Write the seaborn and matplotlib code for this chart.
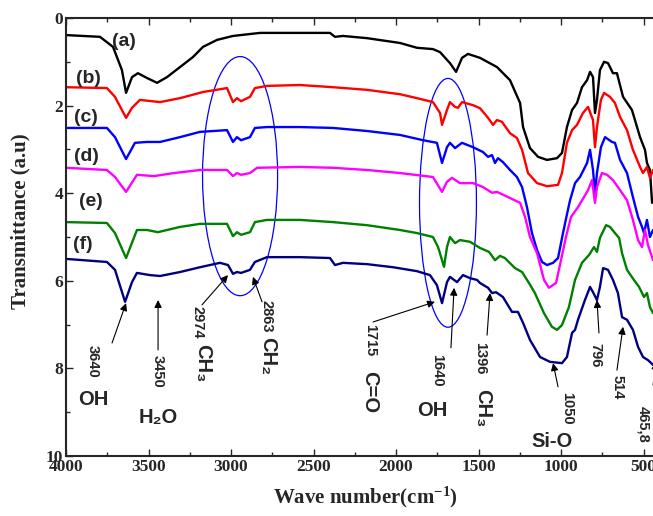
import numpy as np
import pandas as pd
import matplotlib
matplotlib.use("Agg")
import matplotlib.pyplot as plt
import seaborn as sns
from matplotlib.patches import Ellipse
from matplotlib.ticker import MultipleLocator

# ---------------- data ----------------
A_wn = [4000,3794,3715,3661,3636,3600,3564,3509,3448,3388, 3309,3230,3170,3085,2988,2824,2400,2370,2321,2176,
        1976,1873,1776,1733,1673,1636,1600,1564,1491,1388, 1309,1248,1230,1188,1139,1085,1024,994,964,933,
        903,873,842,824,806,794,782,764,739,715, 685,661,624,570,521,491,479,461,448]
A_T = [0.39,0.43,0.66,1.19,1.71,1.35,1.26,1.37,1.48,1.35, 1.12,0.89,0.66,0.50,0.41,0.34,0.34,0.43,0.41,0.46,
       0.57,0.68,0.71,0.78,1.03,1.23,0.91,0.82,0.91,1.12, 1.42,1.94,2.49,2.97,3.17,3.24,3.20,3.08,2.49,2.10,
       1.94,1.58,1.42,1.23,1.35,2.17,1.87,1.19,1.00,1.03, 1.26,1.26,1.80,2.10,2.72,3.01,3.31,3.47,4.22]

B_wn = [4000,3752,3703,3636,3600,3552,3430,3309,3170,3024, 2988,2964,2939,2885,2855,2782,2582,2382,2176,1976,
        1873,1776,1733,1721,1691,1673,1642,1624,1600,1533, 1491,1442,1412,1388,1358,1309,1267,1236,1200,1145,
        1085,1018,994,964,933,903,867,836,806,794, 782,758,739,703,673,642,600,564,521,503, 479,461,442]
B_T = [1.58,1.60,1.80,2.28,2.05,1.87,1.92,1.83,1.69,1.60, 1.92,1.83,1.90,1.80,1.60,1.55,1.53,1.58,1.64,1.74,
       1.83,1.92,2.17,2.44,2.10,1.92,2.03,2.05,1.92,1.99, 2.06,2.28,2.44,2.33,2.37,2.63,2.74,3.01,3.54,3.77,
       3.84,3.81,3.54,2.85,2.56,2.44,2.17,2.03,2.33,2.95, 2.49,1.87,1.71,1.80,1.94,2.26,2.56,3.01,3.40,3.54,
       3.40,3.65,3.47]

C_wn = [4000,3752,3703,3636,3582,3509,3430,3309,3188,3024, 2988,2964,2939,2885,2855,2782,2582,2382,2176,1976,
        1836,1752,1721,1691,1673,1642,1600,1533,1473,1442, 1418,1400,1382,1352,1309,1267,1236,1206,1176,1145,
        1115,1085,1048,1018,988,958,945,915,885,842, 824,806,794,782,758,733,691,673,642,600,
        564,533,509,497,479,461,442]
C_T = [2.51,2.51,2.72,3.22,2.85,2.83,2.83,2.72,2.60,2.56, 2.83,2.72,2.79,2.72,2.51,2.49,2.49,2.51,2.58,2.67,
       2.79,2.85,3.31,2.95,2.85,2.97,2.85,2.95,3.06,3.17, 3.13,3.31,3.20,3.29,3.47,3.63,3.86,4.32,4.91,5.30,
       5.57,5.64,5.59,5.48,4.91,4.38,4.16,3.77,3.63,3.31, 3.01,3.47,4.00,3.54,2.95,2.72,2.83,2.85,3.24,3.54,
       4.09,4.54,4.77,4.91,4.61,5.00,4.84]

D_wn = [4000,3752,3703,3636,3570,3467,3345,3188,3024,2988, 2964,2939,2885,2842,2582,2382,2176,1976,1776,1721,
        1691,1661,1612,1533,1473,1418,1388,1309,1248,1218, 1188,1145,1103,1073,1030,1000,970,939,897,861,
        836,812,794,782,752,721,685,642,600,564, 533,509,491,473,442]
D_T = [3.42,3.47,3.63,3.97,3.58,3.61,3.54,3.47,3.47,3.61, 3.54,3.58,3.54,3.42,3.40,3.42,3.47,3.54,3.63,3.97,
       3.74,3.65,3.77,3.77,3.86,3.99,3.97,4.11,4.22,4.54, 5.00,5.37,5.98,6.16,6.05,5.53,5.00,4.54,4.32,4.09,
       3.93,3.70,4.22,3.86,3.54,3.58,3.70,3.93,4.16,4.61, 5.07,5.23,4.84,5.18,5.53]

E_wn = [4000,3752,3703,3636,3570,3509,3443,3309,3188,3024, 2988,2964,2939,2885,2855,2782,2582,2382,2176,1976,
        1873,1776,1745,1709,1691,1673,1642,1612,1551,1491, 1436,1400,1370,1340,1279,1236,1194,1158,1103,1055,
        1024,994,952,915,873,830,800,782,764,727, 703,673,648,630,600,558,527,497,479,461,442]
E_T = [4.66,4.68,4.91,5.48,4.84,4.84,4.89,4.77,4.70,4.70, 4.98,4.89,4.95,4.89,4.66,4.61,4.61,4.66,4.73,4.84,
       4.91,5.00,5.23,5.68,5.23,5.00,5.14,5.07,5.11,5.25, 5.34,5.53,5.43,5.48,5.71,5.80,6.05,6.28,6.74,7.05,
       7.12,7.01,6.60,5.98,5.59,5.41,5.23,5.34,5.02,4.73, 4.77,4.91,5.02,5.37,5.75,5.98,6.14,6.37,6.28,6.60,6.74]

F_wn = [4000,3752,3703,3642,3600,3570,3491,3430,3309,3188, 3067,3018,2988,2964,2939,2885,2855,2782,2582,2400,
        2370,2321,2176,2018,1873,1794,1752,1721,1691,1673, 1630,1594,1551,1509,1491,1442,1418,1394,1352,1297,
        1261,1230,1188,1127,1067,994,964,933,915,897, 855,824,806,782,764,745,715,685,655,630,
        600,564,533,503,473,442]
F_T = [5.50,5.57,5.75,6.48,6.03,5.82,5.87,5.89,5.80,5.69, 5.59,5.64,5.84,5.80,5.82,5.75,5.57,5.46,5.46,5.48,
       5.64,5.59,5.62,5.69,5.78,5.87,6.10,6.51,6.03,5.91, 6.03,5.87,5.94,5.98,6.05,6.16,6.28,6.26,6.37,6.71,
       6.71,6.96,7.35,7.74,7.85,7.88,7.74,7.19,7.12,6.89, 6.44,6.14,6.26,6.44,6.14,5.71,5.75,5.98,6.28,6.83,
       6.89,7.12,7.51,7.74,7.81,7.92]

samples = ["(a)", "(b)", "(c)", "(d)", "(e)", "(f)"]
colors = ["#000000", "#ff0000", "#0000ff", "#ff00ff", "#008000", "#000080"]
x_ticks = [4000, 3500, 3000, 2500, 2000, 1500, 1000, 500]
y_ticks = [0, 2, 4, 6, 8, 10]

series = [(A_wn, A_T), (B_wn, B_T), (C_wn, C_T), (D_wn, D_T), (E_wn, E_T), (F_wn, F_T)]
frames = []
for name, (wn, t) in zip(samples, series):
    frames.append(pd.DataFrame({"wn": wn, "T": t, "sample": name}))
df = pd.concat(frames, ignore_index=True)

# ---------------- figure ----------------
sns.set_style("ticks")
plt.rcParams["font.family"] = ["Liberation Serif", "DejaVu Serif"]
plt.rcParams["mathtext.fontset"] = "custom"
plt.rcParams["mathtext.rm"] = "Liberation Serif:bold"
plt.rcParams["mathtext.bf"] = "Liberation Serif:bold"
plt.rcParams["mathtext.default"] = "rm"

W, H = 653, 516
fig = plt.figure(figsize=(W / 100, H / 100), dpi=100)
ax = fig.add_axes([66 / W, 60 / H, 594 / W, 438 / H])

sns.lineplot(data=df, x="wn", y="T", hue="sample", palette=dict(zip(samples, colors)),
             sort=False, estimator=None, lw=1.7, legend=False, ax=ax)

ax.set_xlim(4000, 400)
ax.set_ylim(10, 0)
ax.set_xticks(x_ticks)
ax.set_yticks(y_ticks)
ax.xaxis.set_minor_locator(MultipleLocator(250))
ax.yaxis.set_minor_locator(MultipleLocator(1))
ax.tick_params(which="both", direction="in", top=True, right=True, width=1.0)
ax.tick_params(which="major", length=5, labelsize=12.5, pad=2)
ax.tick_params(which="minor", length=3)
for lab in ax.get_xticklabels() + ax.get_yticklabels():
    lab.set_fontweight("bold")
for sp in ax.spines.values():
    sp.set_linewidth(1.5)
ax.set_xlabel("")
ax.set_ylabel("")

fig.text(20 / W, 1 - 221 / H, "Transmittance (a.u)", rotation=90, ha="center", va="center",
         fontsize=15, fontweight="bold")
fig.text(365 / W, 1 - 497 / H, r"Wave number(cm$^{-1}$)", ha="center", va="center",
         fontsize=15, fontweight="bold")

sans = ["Liberation Sans", "DejaVu Sans"]

# sample labels
lab_pos = [(3648, 0.53), (3867, 1.37), (3879, 2.28), (3879, 3.17), (3849, 4.20), (3897, 5.18)]
for s, (xx, yy) in zip(samples, lab_pos):
    ax.text(xx, yy, s, ha="center", va="center", fontsize=14, fontweight="bold", family=sans)

# ellipses
ax.add_patch(Ellipse((2945, 3.61), width=455, height=5.46, fill=False, ec="blue", lw=0.9))
ax.add_patch(Ellipse((1685, 4.22), width=345, height=5.68, fill=False, ec="blue", lw=0.9))

# arrows: (tail, head)
arrows = [((3721, 7.42), (3636, 6.51)), ((3442, 7.58), (3442, 6.44)),
          ((3176, 6.55), (3018, 5.87)), ((2812, 6.48), (2867, 5.91)),
          ((2139, 6.94), (1764, 6.48)), ((1667, 7.53), (1648, 6.16)),
          ((1448, 7.24), (1430, 6.28)), ((1018, 8.42), (1048, 7.88)),
          ((770, 7.19), (782, 6.44)), ((661, 8.04), (624, 7.05)),
          ((442, 8.38), (424, 7.85))]
for tail, head in arrows:
    ax.annotate("", xy=head, xytext=tail,
                arrowprops=dict(arrowstyle="-|>", color="black", lw=0.8,
                                mutation_scale=11, shrinkA=0, shrinkB=0))

# rotated band numbers
nums = [("3640", 3836, 7.85), ("3450", 3442, 8.06), ("2974", 3200, 6.94), ("2863", 2782, 6.80),
        ("1715", 2158, 7.35), ("1640", 1752, 8.04), ("1396", 1491, 7.76), ("1050", 964, 8.90),
        ("796", 794, 7.69), ("514", 655, 8.42), ("465,8", 503, 9.27)]
for s, xx, yy in nums:
    ax.text(xx, yy, s, rotation=270, ha="center", va="center", fontsize=10.5,
            fontweight="bold", family=sans)

# rotated group labels
groups = [("CH\u2083", 3170, 7.88), ("CH\u2082", 2776, 7.72), ("C=O", 2158, 8.54), ("CH\u2083", 1473, 8.90)]
for s, xx, yy in groups:
    ax.text(xx, yy, s, rotation=270, ha="center", va="center", fontsize=14.5,
            fontweight="bold", family=sans)

# horizontal group labels
hgroups = [("OH", 3836, 8.72), ("H\u2082O", 3442, 9.11), ("OH", 1782, 8.95), ("Si-O", 1055, 9.68)]
for s, xx, yy in hgroups:
    ax.text(xx, yy, s, ha="center", va="center", fontsize=14.5, fontweight="bold", family=sans)

fig.savefig("out.png", dpi=100)
